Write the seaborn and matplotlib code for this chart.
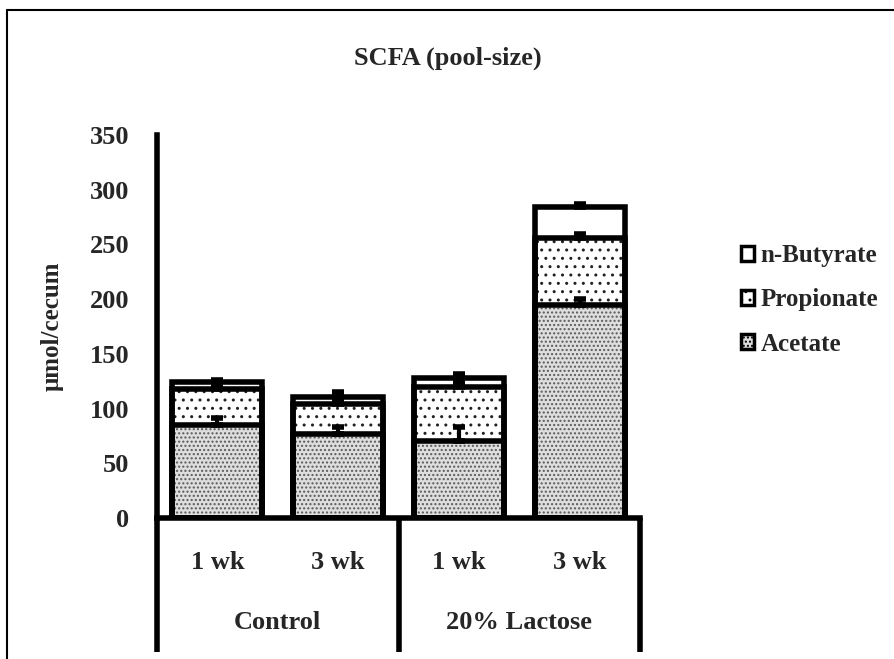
import numpy as np
import pandas as pd
import matplotlib
matplotlib.use("Agg")
import matplotlib.pyplot as plt
import seaborn as sns
from matplotlib.patches import Patch
from matplotlib.lines import Line2D

# --- 데이터 ---
groups = ["c1", "c3", "l1", "l3"]
week_labels = ["1 wk", "3 wk", "1 wk", "3 wk"]
diet_labels = ["Control", "20% Lactose"]
acetate = [85, 77, 70, 195]
propionate = [33, 27, 50, 61]
butyrate = [6, 7, 8, 28]
acetate_err = [6, 6, 13, 5]
propionate_err = [3, 3, 3, 4]
butyrate_err = [2, 4, 4, 3]

sns.set_theme(style="white")
plt.rcParams["font.family"] = ["Liberation Serif", "DejaVu Serif"]
plt.rcParams["font.weight"] = "bold"
plt.rcParams["hatch.linewidth"] = 1.0

df = pd.DataFrame({"group": groups,
                   "acetate": acetate, "propionate": propionate, "butyrate": butyrate})
df["cum_ac"] = df["acetate"]
df["cum_pr"] = df["acetate"] + df["propionate"]
df["cum_bu"] = df["cum_pr"] + df["butyrate"]

fig = plt.figure(figsize=(8.94, 6.59), dpi=100)
ax = fig.add_axes([157 / 894, 0.214, 483 / 894, 0.581])

bar_w = 0.745
# 채우기 레이어 (위에서부터 누적값으로 덮어 그림)
layers = [("cum_bu", "white", None, "white"),
          ("cum_pr", "white", "..", "#222222"),
          ("cum_ac", "#dedede", "....", "#5a5a5a")]
for col, face, hatch, hcol in layers:
    n0 = len(ax.patches)
    sns.barplot(data=df, x="group", y=col, order=groups, color=face,
                errorbar=None, width=bar_w, ax=ax, linewidth=0, saturation=1)
    for p in ax.patches[n0:]:
        p.set_facecolor(face)
        p.set_edgecolor(hcol)
        p.set_linewidth(0)
        if hatch:
            p.set_hatch(hatch)

# 테두리
for col in ["cum_bu", "cum_pr", "cum_ac"]:
    sns.barplot(data=df, x="group", y=col, order=groups, color="black",
                errorbar=None, width=bar_w, ax=ax, fill=False, linewidth=4)

# 오차막대 (위쪽만)
xpos = np.arange(len(groups))
for col, err in [("cum_ac", acetate_err), ("cum_pr", propionate_err), ("cum_bu", butyrate_err)]:
    ax.errorbar(xpos, df[col], yerr=[np.zeros(len(err)), err], fmt="none",
                ecolor="black", elinewidth=3, capsize=4, capthick=4, zorder=5)

ax.set_xlim(-0.5, 3.5)
ax.set_ylim(0, 350)
ax.set_yticks(range(0, 351, 50))
ax.set_xticks([])
ax.set_xlabel("")
ax.set_ylabel("μmol/cecum", fontsize=18, fontweight="bold")
ax.yaxis.set_label_coords(-0.193, 0.5)
ax.tick_params(axis="y", direction="in", length=4, width=3, pad=20, labelsize=19)
for s in ["top", "right"]:
    ax.spines[s].set_visible(False)
for s in ["left", "bottom"]:
    ax.spines[s].set_linewidth(4)
    ax.spines[s].set_color("black")

# 아래쪽 범주 표
trans = ax.get_xaxis_transform()
for xv in [-0.5, 1.5, 3.5]:
    ax.plot([xv, xv], [0, -0.35], transform=trans, color="black", lw=4,
            clip_on=False, solid_capstyle="butt")
for i, lab in enumerate(week_labels):
    ax.text(i, -0.115, lab, transform=trans, ha="center", va="center",
            fontsize=19, fontweight="bold")
for i, lab in enumerate(diet_labels):
    ax.text(0.5 + 2 * i, -0.274, lab, transform=trans, ha="center", va="center",
            fontsize=19, fontweight="bold")

fig.text(448 / 894, 1 - 58 / 659, "SCFA (pool-size)", ha="center", va="center",
         fontsize=19, fontweight="bold")

# 범례
handles = [Patch(facecolor="white", edgecolor="black", linewidth=2.5),
           Patch(facecolor="white", edgecolor="black", linewidth=2.5, hatch=".."),
           Patch(facecolor="#dedede", edgecolor="black", linewidth=2.5, hatch="....")]
fig.legend(handles, ["n-Butyrate", "Propionate", "Acetate"],
           loc="center left", bbox_to_anchor=(728 / 894, 1 - 300 / 659),
           frameon=False, fontsize=18, handlelength=0.55, handleheight=0.55,
           handletextpad=0.25, labelspacing=0.85, borderpad=0)

# 바깥 테두리 (위, 왼쪽)
fig.add_artist(Line2D([7 / 894, 1], [1 - 10 / 659, 1 - 10 / 659], color="black", lw=1.5))
fig.add_artist(Line2D([7 / 894, 7 / 894], [0, 1 - 10 / 659], color="black", lw=1.5))

fig.savefig("out.png", dpi=100)
